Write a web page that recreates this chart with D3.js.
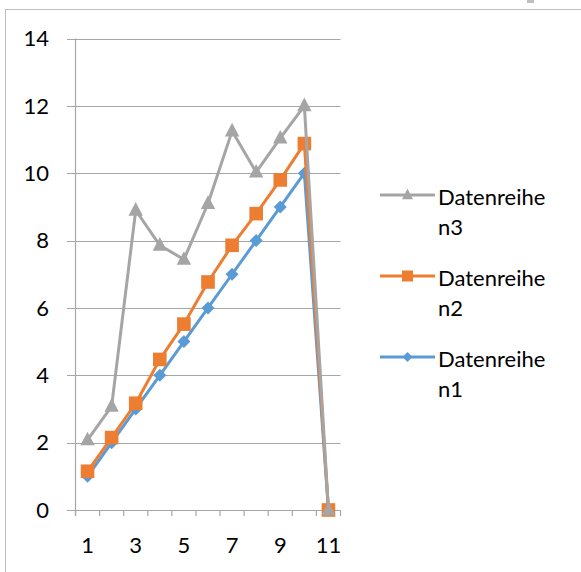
<!DOCTYPE html>
<html><head><meta charset="utf-8">
<script src="https://cdn.jsdelivr.net/npm/d3@7"></script>
<style>body{margin:0;background:#fff}svg{display:block}</style>
</head><body>
<script>
const categories = [1,2,3,4,5,6,7,8,9,10,11];
const xTickLabels = ["1","","3","","5","","7","","9","","11"];
const yTicks = [0,2,4,6,8,10,12,14];
const seriesNames = ["Datenreihen1","Datenreihen2","Datenreihen3"];
const series1 = [1,2,3,4,5,6,7,8,9,10,0];
const series2 = [1.15,2.15,3.17,4.47,5.52,6.77,7.86,8.8,9.8,10.88,0];
const series3 = [2.08,3.08,8.9,7.86,7.44,9.1,11.25,10.03,11.04,12.0,0];

const W=581,H=572;
const colors = ["#5B9BD5","#ED7D31","#A5A5A5"];
const font = "Lato, 'Open Sans', sans-serif";
const fs = 22;
const svg = d3.select("body").append("svg").attr("width",W).attr("height",H);

// chart frame
svg.append("rect").attr("x",5.5).attr("y",9.5).attr("width",700).attr("height",700)
  .attr("fill","none").attr("stroke","#BFBFBF").attr("stroke-width",1);
svg.append("rect").attr("x",527).attr("y",0).attr("width",7).attr("height",3).attr("fill","#BFBFBF");

const x = d3.scaleBand().domain(categories).range([75.5,340.5]).padding(0);
const y = d3.scaleLinear().domain([0,14]).range([510,38.5]);

// gridlines
svg.append("g").selectAll("line").data(yTicks).join("line")
  .attr("x1",67).attr("x2",340.5)
  .attr("y1",d=>Math.round(y(d))+0.5).attr("y2",d=>Math.round(y(d))+0.5)
  .attr("stroke","#A6A6A6").attr("stroke-width",1.2);
// y axis line
svg.append("line").attr("x1",75.5).attr("x2",75.5).attr("y1",38.5).attr("y2",516)
  .attr("stroke","#A6A6A6").attr("stroke-width",1.2);
// x ticks at category boundaries
const bounds = categories.map(c=>x(c)).concat([x.range()[1]]);
svg.append("g").selectAll("line").data(bounds).join("line")
  .attr("x1",d=>d).attr("x2",d=>d).attr("y1",510).attr("y2",516)
  .attr("stroke","#A6A6A6").attr("stroke-width",1.2);

// y labels
svg.append("g").selectAll("text").data(yTicks).join("text")
  .attr("x",49).attr("y",d=>y(d)).attr("dy","0.35em").attr("text-anchor","end")
  .attr("font-family",font).attr("font-size",fs).attr("fill","#000").text(d=>d);
// x labels
svg.append("g").selectAll("text").data(categories).join("text")
  .attr("x",d=>x(d)+x.bandwidth()/2).attr("y",545).attr("dy","0.35em").attr("text-anchor","middle")
  .attr("font-family",font).attr("font-size",fs).attr("fill","#000").text((d,i)=>xTickLabels[i]);

const data = [series1,series2,series3];
const cx = c=>x(c)+x.bandwidth()/2;
const line = d3.line().x((d,i)=>cx(categories[i])).y(d=>y(d));

function marker(g,type,color,s){
  if(type===0){ // diamond
    g.append("path").attr("d",`M0,${-s}L${s},0L0,${s}L${-s},0Z`).attr("fill",color);
  } else if(type===1){
    g.append("rect").attr("x",-s).attr("y",-s).attr("width",2*s).attr("height",2*s).attr("fill",color);
  } else {
    g.append("path").attr("d",`M0,${-s*1.15}L${s},${s*0.75}L${-s},${s*0.75}Z`).attr("fill",color);
  }
}
const msize=[6.5,6.8,7.2];
data.forEach((vals,k)=>{
  const g=svg.append("g");
  g.append("path").datum(vals).attr("d",line).attr("fill","none")
    .attr("stroke",colors[k]).attr("stroke-width",3).attr("stroke-linejoin","round");
  vals.forEach((v,i)=>{
    const m=g.append("g").attr("transform",`translate(${cx(categories[i])},${y(v)})`);
    marker(m,k,colors[k],msize[k]);
  });
});

// legend (order: 3,2,1)
const legY=[357,276,195];
const lg=svg.append("g");
[2,1,0].forEach(k=>{
  const ly=legY[k];
  lg.append("line").attr("x1",380).attr("x2",435).attr("y1",ly).attr("y2",ly)
    .attr("stroke",colors[k]).attr("stroke-width",3);
  const m=lg.append("g").attr("transform",`translate(407.5,${ly})`);
  marker(m,k,colors[k],k===0?5:5.5);
  const name=seriesNames[k];
  const t=lg.append("text").attr("font-family",font).attr("font-size",fs).attr("fill","#000");
  t.append("tspan").attr("x",438).attr("y",ly+9.5).text(name.slice(0,10));
  t.append("tspan").attr("x",438).attr("y",ly+40).text(name.slice(10));
});
</script>
</body></html>
